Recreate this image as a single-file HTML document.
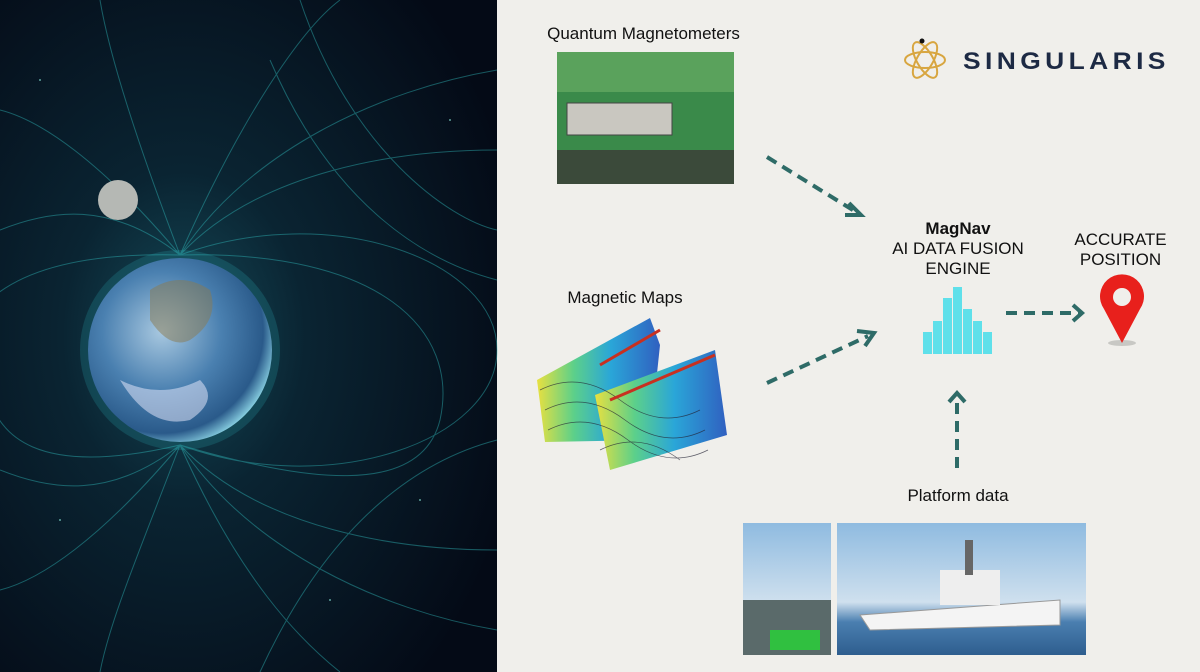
<!DOCTYPE html>
<html><head><meta charset="utf-8"><style>
body{margin:0;width:1200px;height:672px;overflow:hidden;background:#f0efeb;font-family:"Liberation Sans",sans-serif;position:relative}
.t{position:absolute;color:#111;font-size:17px;text-align:center}
</style></head><body>
<svg width="1200" height="672" style="position:absolute;left:0;top:0">
<defs>
<radialGradient id="sp" cx="0.37" cy="0.5" r="0.7"><stop offset="0" stop-color="#154a58"/><stop offset="0.35" stop-color="#0a2432"/><stop offset="1" stop-color="#040a16"/></radialGradient>
<radialGradient id="ea" cx="0.4" cy="0.4" r="0.65"><stop offset="0" stop-color="#a8c8e0"/><stop offset="0.5" stop-color="#4a80b0"/><stop offset="0.85" stop-color="#2a5a8a"/><stop offset="1" stop-color="#8fd8e8"/></radialGradient>
<linearGradient id="mp" x1="0" y1="0" x2="1" y2="0"><stop offset="0" stop-color="#e8e040"/><stop offset="0.3" stop-color="#5cd08a"/><stop offset="0.6" stop-color="#2aa6d8"/><stop offset="1" stop-color="#3060c0"/></linearGradient>
<linearGradient id="sky" x1="0" y1="0" x2="0" y2="1"><stop offset="0" stop-color="#8fbbe0"/><stop offset="0.6" stop-color="#cfe0ee"/><stop offset="0.75" stop-color="#4a7fb0"/><stop offset="1" stop-color="#2e5e8e"/></linearGradient>
</defs>
<rect x="0" y="0" width="497" height="672" fill="url(#sp)"/>
<g stroke="#2fb6b8" stroke-width="1" fill="none" opacity="0.45">
<path d="M180 255 C250 150 380 90 497 70 M180 255 C260 170 400 150 497 150 M180 255 C240 120 300 30 340 0 M180 255 C140 150 110 60 100 0 M180 255 C100 160 40 120 0 110 M180 255 C110 200 50 210 0 230"/>
<path d="M180 445 C250 550 380 610 497 630 M180 445 C260 530 400 550 497 550 M180 445 C240 580 300 640 340 672 M180 445 C140 550 110 620 100 672 M180 445 C100 540 40 580 0 590 M180 445 C110 500 50 490 0 470"/>
<path d="M180 255 C380 250 460 330 440 420 C420 500 300 480 180 445 M180 255 C330 200 497 260 497 350 M180 445 C330 500 497 440 497 350"/>
<path d="M180 255 C-20 250 -60 330 -40 420 M180 445 C30 480 0 430 -10 400"/>
<path d="M270 60 C330 200 420 260 497 280 M300 0 C350 150 450 220 497 230 M260 672 C330 520 420 460 497 440"/>
</g>
<g fill="#9fe" opacity="0.6"><circle cx="420" cy="500" r="1"/><circle cx="60" cy="520" r="1"/><circle cx="330" cy="600" r="1"/><circle cx="450" cy="120" r="1"/><circle cx="40" cy="80" r="1"/></g>
<circle cx="118" cy="200" r="20" fill="#b5b8b4"/>
<circle cx="180" cy="350" r="100" fill="#2fb6c0" opacity="0.2"/>
<circle cx="180" cy="350" r="92" fill="url(#ea)"/>
<path d="M150 290 q30 -20 60 0 q10 30 -20 50 q-20 10 -40 -20z" fill="#8a7a50" opacity="0.5"/>
<path d="M120 380 q40 20 80 0 q20 20 -10 40 q-40 10 -70 -40z" fill="#eef" opacity="0.5"/>
<!-- photos -->
<rect x="557" y="52" width="177" height="132" fill="#3a8a4a"/>
<rect x="557" y="52" width="177" height="40" fill="#5aa25c"/>
<rect x="567" y="103" width="105" height="32" fill="#c9c7c0" stroke="#444"/>
<rect x="557" y="150" width="177" height="34" fill="#3b4a3a"/>
<path d="M537 380 L650 318 L660 345 L650 440 L545 442 Z" fill="url(#mp)"/>
<path d="M595 395 L715 350 L727 435 L610 470 Z" fill="url(#mp)"/>
<g stroke="#223" stroke-width="0.7" fill="none" opacity="0.7"><path d="M540 390 q40 -20 80 10 t80 10 M545 410 q40 -20 80 10 t80 10 M548 430 q40 -20 80 10 t80 10 M600 450 q40 -20 80 10"/></g>
<path d="M600 365 L660 330 M610 400 L715 355" stroke="#c83020" stroke-width="3" fill="none"/>
<rect x="743" y="523" width="88" height="132" fill="url(#sky)"/>
<rect x="743" y="600" width="88" height="55" fill="#5a6a6a"/>
<rect x="770" y="630" width="50" height="20" fill="#30c040"/>
<rect x="837" y="523" width="249" height="132" fill="url(#sky)"/>
<path d="M860 615 L1060 600 L1060 625 L870 630 Z" fill="#f4f4f4" stroke="#999"/>
<rect x="940" y="570" width="60" height="35" fill="#eee"/><rect x="965" y="540" width="8" height="35" fill="#666"/>
<!-- arrows -->
<g stroke="#2e6b67" stroke-width="4" fill="none">
<path d="M767 157 L856 212" stroke-dasharray="11 7"/><path d="M849 203 L861 215 L845 215"/>
<path d="M767 383 L868 336" stroke-dasharray="11 7"/><path d="M857 331 L874 333 L865 346"/>
<path d="M1006 313 L1080 313" stroke-dasharray="11 7"/><path d="M1073 305 L1082 313 L1073 321"/>
<path d="M957 468 L957 400" stroke-dasharray="11 7"/><path d="M949 402 L957 393 L965 402"/>
</g>
<!-- histogram -->
<g fill="#5fe0ea">
<rect x="923" y="332" width="9" height="22"/><rect x="933" y="321" width="9" height="33"/><rect x="943" y="298" width="9" height="56"/><rect x="953" y="287" width="9" height="67"/><rect x="963" y="309" width="9" height="45"/><rect x="973" y="321" width="9" height="33"/><rect x="983" y="332" width="9" height="22"/>
</g>
<!-- pin -->
<ellipse cx="1122" cy="343" rx="14" ry="3" fill="#c8c8c4"/>
<path d="M1122 343 L1104 309 A22 22 0 1 1 1140 309 Z" fill="#e8201c"/>
<circle cx="1122" cy="297" r="9" fill="#f0efeb"/>
<!-- logo -->
<g stroke="#d8a640" stroke-width="2" fill="none">
<ellipse cx="925" cy="60" rx="20" ry="8"/><ellipse cx="925" cy="60" rx="20" ry="8" transform="rotate(60 925 60)"/><ellipse cx="925" cy="60" rx="20" ry="8" transform="rotate(-60 925 60)"/>
</g>
<circle cx="922" cy="41" r="2.5" fill="#111"/>
</svg>
<div class="t" style="left:537px;top:24px;width:213px">Quantum Magnetometers</div>
<div style="position:absolute;left:963px;top:48px;font-size:24px;font-weight:bold;color:#1d2a44;letter-spacing:4px;transform:scaleX(1.1);transform-origin:left">SINGULARIS</div>
<div class="t" style="left:540px;top:288px;width:170px">Magnetic Maps</div>
<div class="t" style="left:868px;top:219px;width:180px;line-height:20px"><b>MagNav</b><br>AI DATA FUSION<br>ENGINE</div>
<div class="t" style="left:1063px;top:230px;width:115px;line-height:20px">ACCURATE<br>POSITION</div>
<div class="t" style="left:888px;top:486px;width:140px">Platform data</div>
</body></html>
